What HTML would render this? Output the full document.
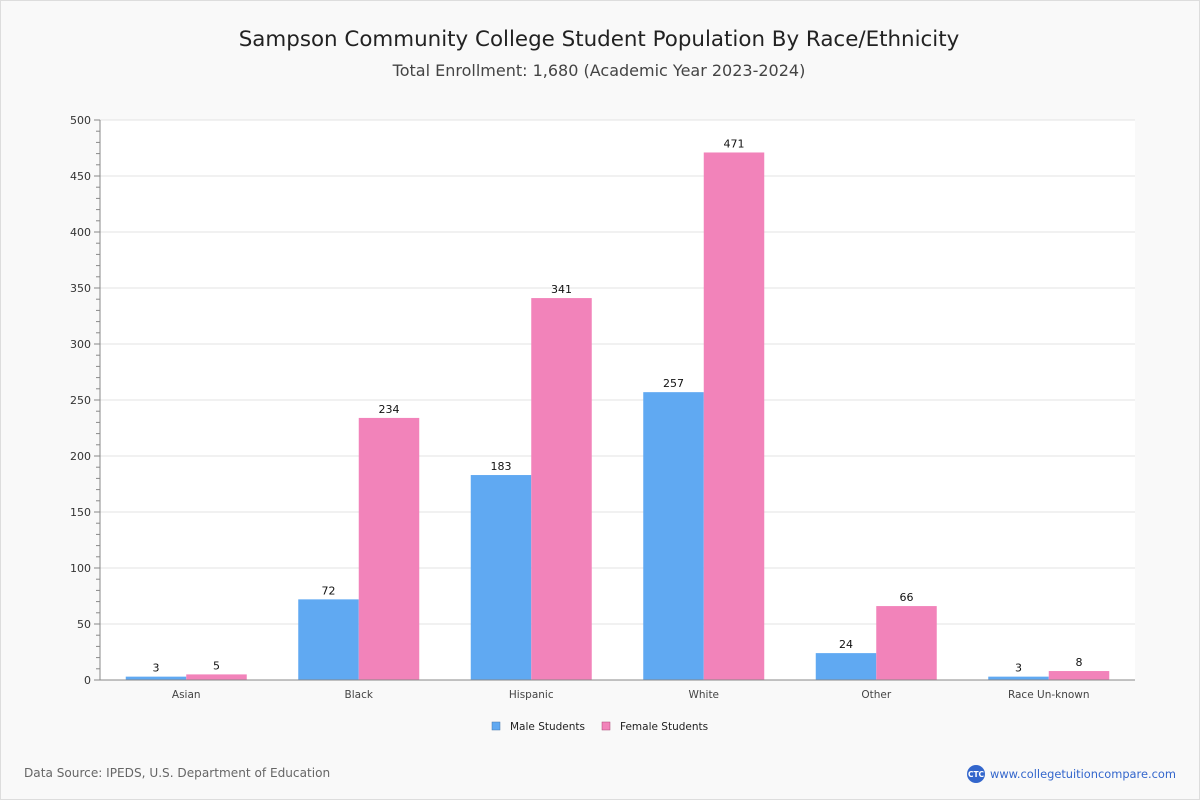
<!DOCTYPE html>
<html><head><meta charset="utf-8"><style>
html,body{margin:0;padding:0;width:1200px;height:800px;background:#f9f9f9;overflow:hidden}
#wrap{position:absolute;left:0;top:0;width:1198px;height:798px;border:1px solid #ddd;background:#f9f9f9}
#chart{position:absolute;left:0;top:0}
svg text{font-family:"DejaVu Sans","Liberation Sans",sans-serif}
</style></head><body>
<div id="wrap"></div>
<svg id="chart" width="1200" height="800" xmlns="http://www.w3.org/2000/svg">
<text x="599" y="46" text-anchor="middle" font-size="21.4" fill="#222">Sampson Community College Student Population By Race/Ethnicity</text>
<text x="599" y="76" text-anchor="middle" font-size="16" fill="#444">Total Enrollment: 1,680 (Academic Year 2023-2024)</text>
<rect x="100" y="120" width="1035" height="560" fill="#fff"/>
<g id="grid"></g><g id="bars"></g><g id="axes"></g>
<g>
<rect x="492" y="722" width="8" height="8" fill="#60a9f2" stroke="#4477aa" stroke-width="0.5"/>
<text x="510" y="730" font-size="10.5" fill="#222">Male Students</text>
<rect x="602" y="722" width="8" height="8" fill="#f283ba" stroke="#aa4477" stroke-width="0.5"/>
<text x="620" y="730" font-size="10.5" fill="#222">Female Students</text>
</g>
<text x="24" y="777" font-size="12.1" fill="#666">Data Source: IPEDS, U.S. Department of Education</text>
<g>
<circle cx="976" cy="774" r="9" fill="#3366cc"/>
<text x="976" y="777" text-anchor="middle" font-size="7.5" font-weight="bold" fill="#fff">CTC</text>
<text x="990" y="778" font-size="11.4" fill="#3366cc">www.collegetuitioncompare.com</text>
</g>
</svg>
<script>
const categories=["Asian","Black","Hispanic","White","Other","Race Un-known"];
const maleValues=[3,72,183,257,24,3];
const femaleValues=[5,234,341,471,66,8];
const yTicks=[0,50,100,150,200,250,300,350,400,450,500];
const NS="http://www.w3.org/2000/svg";
const X0=100,X1=1135,Y0=680,Y1=120,YMAX=500;
const y=v=>Y0-(v/YMAX)*(Y0-Y1);
const band=(X1-X0)/categories.length;
const xc=i=>X0+band*(i+0.5);
const BW=60.5;
function mk(t,a,p,txt){const e=document.createElementNS(NS,t);for(const k in a)e.setAttribute(k,a[k]);if(txt!==undefined)e.textContent=txt;p.appendChild(e);return e;}
const grid=document.getElementById('grid'),bars=document.getElementById('bars'),axes=document.getElementById('axes');
yTicks.forEach(t=>{
 if(t>0){const g=mk('line',{x1:X0,x2:X1,y1:y(t),y2:y(t),stroke:'#e3e3e3','stroke-width':1},grid);
 
 }
 const l=mk('text',{x:91,y:y(t)+4,'text-anchor':'end','font-size':11,fill:'#333'},axes,String(t));
 
 
});
for(let v=0;v<=YMAX;v+=10){mk('line',{x1:v%50===0?94:96,x2:100,y1:y(v),y2:y(v),stroke:'#888','stroke-width':1},axes);}
mk('line',{x1:X0,x2:X0,y1:Y1,y2:Y0,stroke:'#888'},axes);
mk('line',{x1:X0,x2:X1,y1:Y0,y2:Y0,stroke:'#888'},axes);
categories.forEach((c,i)=>{
 const cx=xc(i);
 const m=mk('rect',{x:cx-BW,y:y(maleValues[i]),width:BW,height:Y0-y(maleValues[i]),fill:'#60a9f2'},bars);
 
 
 const f=mk('rect',{x:cx,y:y(femaleValues[i]),width:BW,height:Y0-y(femaleValues[i]),fill:'#f283ba'},bars);
 
 
 const ml=mk('text',{x:cx-BW/2,y:y(maleValues[i])-5,'text-anchor':'middle','font-size':11,fill:'#111'},bars,String(maleValues[i]));
 
 
 const fl=mk('text',{x:cx+BW/2,y:y(femaleValues[i])-5,'text-anchor':'middle','font-size':11,fill:'#111'},bars,String(femaleValues[i]));
 
 
 const xl=mk('text',{x:cx,y:698,'text-anchor':'middle','font-size':10.5,fill:'#444'},axes,c);
 
 
});
</script>
</body></html>
